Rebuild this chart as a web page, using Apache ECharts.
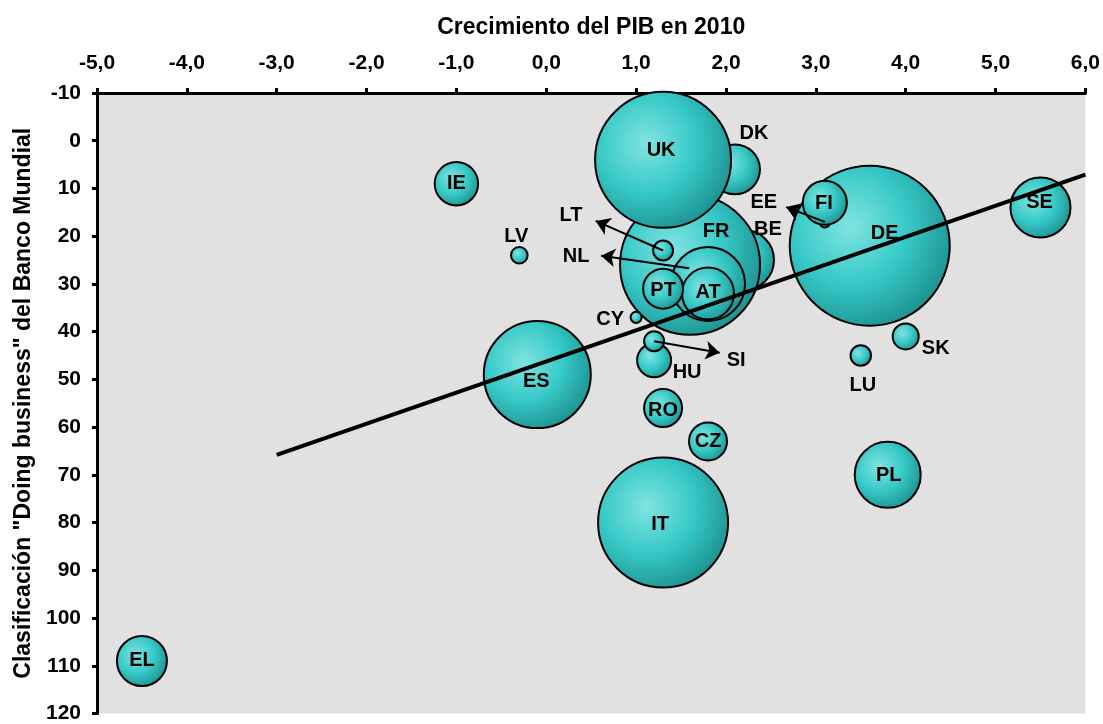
<!DOCTYPE html>
<html>
<head>
<meta charset="utf-8">
<script src="https://cdn.jsdelivr.net/npm/echarts@6/dist/echarts.min.js"></script>
<style>
html,body{margin:0;padding:0;background:#ffffff;}
#chart{width:1103px;height:724px;}
</style>
</head>
<body>
<div id="chart"></div>
<script>
// ---- data ----
const countries = ['BE','CZ','DK','DE','EE','IE','EL','ES','FR','IT','CY','LV','LT','LU','HU','NL','AT','PL','PT','RO','SI','SK','FI','SE','UK'];
const growth2010 = [2.2, 1.8, 2.1, 3.6, 3.1, -1.0, -4.5, -0.1, 1.6, 1.3, 1.0, -0.3, 1.3, 3.5, 1.2, 1.8, 1.8, 3.8, 1.3, 1.3, 1.2, 4.0, 3.1, 5.5, 1.3];
const doingBusinessRank = [25, 63, 6, 22, 17, 9, 109, 49, 26, 80, 37, 24, 23, 45, 46, 30, 32, 70, 31, 56, 42, 41, 13, 14, 4];
// bubble weight (approx. GDP, bn EUR)
const bubbleWeight = [352, 141, 244, 2500, 12, 184, 244, 1118, 1914, 1650, 12, 27, 39, 41, 113, 535, 264, 425, 156, 141, 39, 66, 189, 352, 1806];
// trend line end points [growth, rank]
const trendLine = [[-3.0, 65.8], [6.0, 7.1]];
// arrows linking labels to small bubbles: [from, to]
const arrowLines = [
  [[1.3, 23], [0.55, 16.8]],
  [[1.59, 26.7], [0.61, 24.1]],
  [[3.1, 17], [2.67, 13.9]],
  [[1.2, 42], [1.93, 44.4]]
];
const xTickLabels = ['-5,0','-4,0','-3,0','-2,0','-1,0','0,0','1,0','2,0','3,0','4,0','5,0','6,0'];
const yTickLabels = ['-10','0','10','20','30','40','50','60','70','80','90','100','110','120'];
const xTitle = 'Crecimiento del PIB en 2010';
const yTitle = 'Clasificación "Doing business" del Banco Mundial';

// ---- styling ----
const labelOffsets = {
  UK:[-2,-11], DK:[19,-38], IE:[0,-2], LV:[-3,-21], LT:[-92,-37], NL:[-132,-29],
  FR:[26,-35], BE:[24,-33], EE:[-61,-21], FI:[-1,-1], DE:[15,-14], SE:[-1,-7],
  PT:[0,0], AT:[0,-3], CY:[-26,0], SI:[82,17], HU:[33,10], SK:[30,10], LU:[2,28],
  RO:[0,0], CZ:[0,-2], IT:[-3,0], PL:[1,-1], EL:[0,-3], ES:[-1,5]
};
const LABEL_SHIFT_Y = 2;
const FONT = '"Liberation Sans", Arial, sans-serif';

const bubbleData = countries.map((c, i) => ({name: c, value: [growth2010[i], doingBusinessRank[i], bubbleWeight[i]]}));
const labelData = countries.map((c, i) => {
  const o = labelOffsets[c] || [0, 0];
  return {name: c, value: [growth2010[i], doingBusinessRank[i]], label: {offset: [o[0], o[1] + LABEL_SHIFT_Y]}};
});

const chart = echarts.init(document.getElementById('chart'), null, {renderer: 'canvas'});
chart.setOption({
  animation: false,
  backgroundColor: '#ffffff',
  grid: {left: 97, right: 17, top: 93, bottom: 7, show: true, backgroundColor: '#e1e1e1', borderWidth: 0},
  xAxis: {
    type: 'value', position: 'top', min: -5, max: 6, interval: 1,
    name: xTitle, nameLocation: 'middle', nameGap: 54,
    nameTextStyle: {fontFamily: FONT, fontWeight: 'bold', fontSize: 23, color: '#000'},
    axisLine: {show: true, onZero: false, lineStyle: {color: '#000', width: 3}},
    axisTick: {show: true, length: 5, lineStyle: {color: '#000', width: 3}},
    splitLine: {show: false},
    axisLabel: {margin: 19, fontFamily: FONT, fontWeight: 'bold', fontSize: 21, color: '#000',
      formatter: v => xTickLabels[Math.round(v + 5)]}
  },
  yAxis: {
    type: 'value', inverse: true, min: -10, max: 120, interval: 10,
    name: yTitle, nameLocation: 'middle', nameGap: 58, nameRotate: 90,
    nameTextStyle: {fontFamily: FONT, fontWeight: 'bold', fontSize: 23, color: '#000'},
    axisLine: {show: true, onZero: false, lineStyle: {color: '#000', width: 3}},
    axisTick: {show: true, length: 5, lineStyle: {color: '#000', width: 3}},
    splitLine: {show: false},
    axisLabel: {margin: 16, fontFamily: FONT, fontWeight: 'bold', fontSize: 21, color: '#000',
      formatter: v => yTickLabels[Math.round((v + 10) / 10)]}
  },
  series: [
    {
      type: 'scatter', z: 2, silent: true,
      data: bubbleData,
      symbol: 'circle',
      symbolSize: d => 3.2 * Math.sqrt(d[2]),
      itemStyle: {
        color: {type: 'radial', x: 0.38, y: 0.38, r: 0.65, colorStops: [
          {offset: 0, color: '#80e4e1'},
          {offset: 0.55, color: '#36c9c7'},
          {offset: 1, color: '#1e9593'}
        ]},
        borderColor: '#000', borderWidth: 2, opacity: 1
      }
    },
    {
      type: 'line', z: 3, silent: true, data: trendLine,
      symbol: 'none', lineStyle: {color: '#000', width: 4}
    },
    {
      type: 'lines', coordinateSystem: 'cartesian2d', z: 4, silent: true,
      data: arrowLines.map(p => ({coords: p})),
      symbol: ['none', 'arrow'], symbolSize: 14,
      lineStyle: {color: '#000', width: 2, opacity: 1, curveness: 0}
    },
    {
      type: 'scatter', z: 5, silent: true, data: labelData,
      symbol: 'circle', symbolSize: 0.1, itemStyle: {color: '#000', opacity: 1},
      label: {show: true, position: 'inside', formatter: p => p.name,
        fontFamily: FONT, fontWeight: 'bold', fontSize: 20, color: '#000',
        textBorderWidth: 0, opacity: 1}
    }
  ]
});
</script>
</body>
</html>
